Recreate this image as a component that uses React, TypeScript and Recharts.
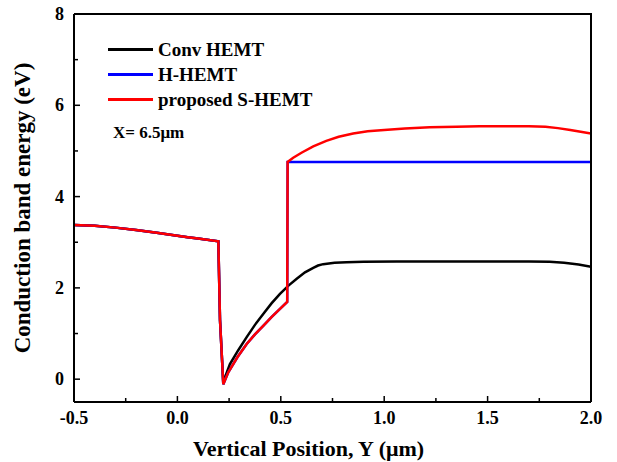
import { LineChart, Line, XAxis, YAxis } from "recharts";

// shared part of all three profiles (barrier + well down to the dip)
const sharedX = [-0.5, -0.4, -0.3, -0.2, -0.1, 0.0, 0.05, 0.1, 0.198, 0.206, 0.222];
const sharedY = [3.38, 3.36, 3.32, 3.27, 3.21, 3.14, 3.11, 3.08, 3.02, 1.3, -0.11];

// H-HEMT / S-HEMT rise inside the channel
const wellX = [0.246, 0.29, 0.335, 0.375, 0.415, 0.455, 0.496, 0.531];
const wellY = [0.15, 0.48, 0.77, 0.98, 1.17, 1.36, 1.54, 1.69];

// proposed S-HEMT after the step
const sX = [0.533, 0.56, 0.6, 0.657, 0.72, 0.78, 0.85, 0.92, 1.0, 1.1, 1.22, 1.35, 1.46, 1.6, 1.7, 1.78, 1.84, 1.9, 1.95, 2.0];
const sY = [4.76, 4.85, 4.96, 5.1, 5.22, 5.31, 5.38, 5.43, 5.46, 5.49, 5.52, 5.53, 5.54, 5.54, 5.54, 5.53, 5.5, 5.46, 5.42, 5.38];

// H-HEMT after the step
const hX = [0.533, 2.0];
const hY = [4.76, 4.76];

// Conv HEMT after the dip
const convX = [0.23, 0.254, 0.295, 0.335, 0.375, 0.415, 0.455, 0.496, 0.537, 0.577, 0.617, 0.657, 0.68, 0.705, 0.76, 0.818, 0.9, 1.06, 1.3, 1.5, 1.7, 1.8, 1.87, 1.94, 2.0];
const convY = [0.04, 0.33, 0.64, 0.92, 1.19, 1.43, 1.66, 1.87, 2.05, 2.2, 2.34, 2.44, 2.49, 2.52, 2.55, 2.56, 2.57, 2.58, 2.58, 2.58, 2.58, 2.57, 2.55, 2.51, 2.46];

const xTicks = [-0.5, -0.25, 0, 0.25, 0.5, 0.75, 1, 1.25, 1.5, 1.75, 2];
const yTicks = [0, 1, 2, 3, 4, 5, 6, 7, 8];
const xDomain = [-0.5, 2];
const yDomain = [-0.5, 8];

const FONT = '"Liberation Serif", "Times New Roman", serif';
const GAP = 10;
const W = 617;
const H = 462;
const M = { top: 14, right: 26, bottom: 0, left: 0 };
const Y_AXIS_W = 74;
const X_AXIS_H = 60;
const PLOT_W = W - M.left - M.right - Y_AXIS_W;
const PLOT_H = H - M.top - M.bottom - X_AXIS_H;

const toPoints = (xs: number[], ys: number[]) => xs.map((x, i) => ({ x, y: ys[i] }));

const convData = [...toPoints(sharedX, sharedY), ...toPoints(convX, convY)];
const hData = [...toPoints(sharedX, sharedY), ...toPoints(wellX, wellY), ...toPoints(hX, hY)];
const sData = [...toPoints(sharedX, sharedY), ...toPoints(wellX, wellY), ...toPoints(sX, sY)];

const series = [
  { name: "Conv HEMT", color: "#000000", data: convData },
  { name: "H-HEMT", color: "#0000ff", data: hData },
  { name: "proposed S-HEMT", color: "#ff0000", data: sData },
];

const XTick = (props: any) => {
  const { x, y, payload } = props;
  const v = payload.value;
  const major = Math.abs(v * 2 - Math.round(v * 2)) < 1e-6;
  const axisY = y - GAP;
  return (
    <g>
      <line x1={x} x2={x} y1={axisY} y2={axisY - (major ? 6 : 4)} stroke="#000" strokeWidth={1.5} />
      {major && (
        <text x={x} y={axisY + 22} textAnchor="middle" fontFamily={FONT} fontWeight="bold" fontSize={18} fill="#000">
          {v.toFixed(1)}
        </text>
      )}
    </g>
  );
};

const YTick = (props: any) => {
  const { x, y, payload } = props;
  const v = payload.value;
  const major = v % 2 === 0;
  const axisX = x + GAP;
  return (
    <g>
      <line x1={axisX} x2={axisX + (major ? 6 : 4)} y1={y} y2={y} stroke="#000" strokeWidth={1.5} />
      {major && (
        <text x={axisX - 10} y={y + 6} textAnchor="end" fontFamily={FONT} fontWeight="bold" fontSize={18} fill="#000">
          {v}
        </text>
      )}
    </g>
  );
};

const LegendBox = () => (
  <div style={{ position: "absolute", left: 108, top: 37, fontFamily: FONT, fontWeight: "bold", fontSize: 19, color: "#000" }}>
    {series.map((s) => (
      <div key={s.name} style={{ display: "flex", alignItems: "center", height: 25 }}>
        <span style={{ display: "inline-block", width: 45, height: 3, background: s.color, marginRight: 5 }} />
        <span>{s.name}</span>
      </div>
    ))}
    <div style={{ marginTop: 11, marginLeft: 5, fontSize: 17, lineHeight: "20px" }}>X= 6.5μm</div>
  </div>
);

// top and right edges of the plot box
const Frame = () => (
  <div
    style={{
      position: "absolute",
      left: M.left + Y_AXIS_W,
      top: M.top - 1,
      width: PLOT_W + 1,
      height: PLOT_H + 1,
      boxSizing: "border-box",
      borderTop: "2px solid #000",
      borderRight: "2px solid #000",
      pointerEvents: "none",
    }}
  />
);

export default function App() {
  return (
    <div style={{ position: "absolute", left: 0, top: 0, width: W, height: H, background: "#fff" }}>
      <LineChart width={W} height={H} margin={M}>
        <XAxis
          type="number"
          dataKey="x"
          domain={xDomain}
          ticks={xTicks}
          allowDataOverflow
          height={X_AXIS_H}
          tickSize={0}
          tickMargin={GAP}
          tick={<XTick />}
          axisLine={{ stroke: "#000", strokeWidth: 2 }}
          label={{
            content: (p: any) => {
              const vb = p.viewBox;
              return (
                <text x={vb.x + vb.width / 2 - 24} y={vb.y + 54} textAnchor="middle" fontFamily={FONT} fontWeight="bold" fontSize={22} fill="#000">
                  Vertical Position, Y (μm)
                </text>
              );
            },
          }}
        />
        <YAxis
          type="number"
          domain={yDomain}
          ticks={yTicks}
          allowDataOverflow
          width={Y_AXIS_W}
          tickSize={0}
          tickMargin={GAP}
          tick={<YTick />}
          axisLine={{ stroke: "#000", strokeWidth: 2 }}
          label={{
            content: (p: any) => {
              const vb = p.viewBox;
              const cx = vb.x + 22;
              const cy = vb.y + vb.height / 2;
              return (
                <text x={cx} y={cy} transform={`rotate(-90 ${cx} ${cy})`} textAnchor="middle" dominantBaseline="central" fontFamily={FONT} fontWeight="bold" fontSize={23} fill="#000">
                  Conduction band energy (eV)
                </text>
              );
            },
          }}
        />
        {series.map((s) => (
          <Line
            key={s.name}
            data={s.data}
            dataKey="y"
            name={s.name}
            type="linear"
            stroke={s.color}
            strokeWidth={2.5}
            dot={false}
            isAnimationActive={false}
          />
        ))}
      </LineChart>
      <Frame />
      <LegendBox />
    </div>
  );
}
